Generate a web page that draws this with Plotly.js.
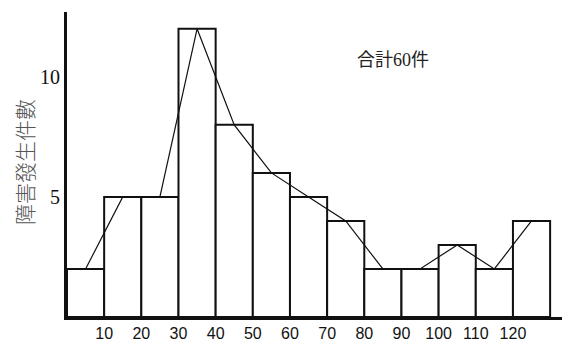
<!DOCTYPE html>
<html>
<head>
<meta charset="utf-8">
<script src="https://cdn.plot.ly/plotly-3.0.1.min.js"></script>
<style>html,body{margin:0;padding:0;background:#fff;}#chart{width:568px;height:358px;}</style>
</head>
<body>
<div id="chart"></div>
<script>
const binMid = [5, 15, 25, 35, 45, 55, 65, 75, 85, 95, 105, 115, 125];
const counts = [2, 5, 5, 12, 8, 6, 5, 4, 2, 2, 3, 2, 4];
const xTicks = [10, 20, 30, 40, 50, 60, 70, 80, 90, 100, 110, 120];
const yTicks = [5, 10];
const yTitle = '障害發生件數';
const note = '合計60件';

const traces = [
  {
    type: 'bar', x: binMid, y: counts, width: 10,
    marker: {color: '#ffffff', line: {color: '#111', width: 2}},
    hoverinfo: 'none'
  },
  {
    type: 'scatter', mode: 'lines', x: binMid, y: counts,
    line: {color: '#111', width: 1.2}, hoverinfo: 'none'
  }
];

const layout = {
  width: 568, height: 358,
  margin: {l: 67, r: 6, t: 12, b: 41},
  paper_bgcolor: '#fff', plot_bgcolor: '#fff',
  showlegend: false,
  bargap: 0,
  xaxis: {
    range: [0, 133.2], showgrid: false, zeroline: false,
    showline: true, linecolor: '#111', linewidth: 3,
    tickvals: xTicks, ticktext: xTicks.map(String), ticks: '',
    tickfont: {family: 'Liberation Sans, Arial, sans-serif', size: 16, color: '#111'}
  },
  yaxis: {
    range: [0, 12.7], showgrid: false, zeroline: false,
    showline: true, linecolor: '#111', linewidth: 3,
    tickvals: yTicks, ticktext: yTicks.map(String), ticks: '',
    tickfont: {family: 'Liberation Serif, Times New Roman, serif', size: 20, color: '#111'}
  },
  annotations: [
    {
      x: 87.7, y: 10.7, xref: 'x', yref: 'y', showarrow: false,
      text: note,
      font: {family: 'Liberation Serif, Noto Sans CJK JP, serif', size: 18, color: '#222'}
    },
    {
      x: (24 - 67) / 495, y: 0.508, xref: 'paper', yref: 'paper', showarrow: false,
      xanchor: 'center', yanchor: 'middle', textangle: -90,
      text: yTitle,
      font: {family: 'Noto Sans CJK JP, sans-serif', size: 21, color: '#555', weight: 300}
    }
  ]
};

Plotly.newPlot('chart', traces, layout, {displayModeBar: false, staticPlot: true});
</script>
</body>
</html>
